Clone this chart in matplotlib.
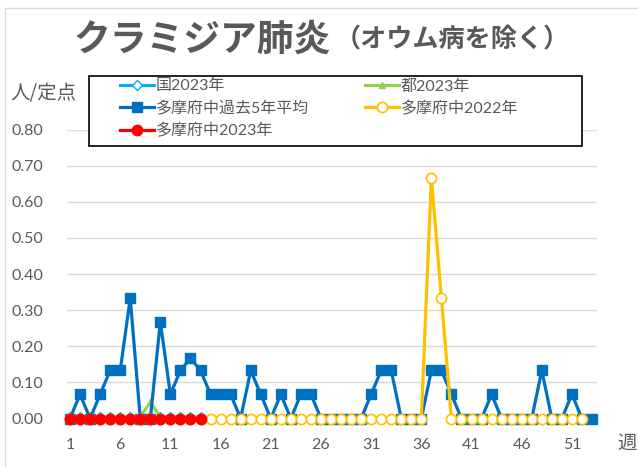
import matplotlib
matplotlib.use('Agg')
import matplotlib.pyplot as plt
from matplotlib.patches import Rectangle

plt.rcParams['font.family'] = ['Lato', 'Noto Sans CJK JP', 'DejaVu Sans']

# 週
weeks_all = list(range(1, 54))
weeks_2022 = list(range(1, 53))
weeks_2023 = list(range(1, 15))

# 多摩府中 過去5年平均
avg5 = [0, 0.067, 0, 0.067, 0.133, 0.133, 0.333, 0, 0, 0.267,
        0.067, 0.133, 0.167, 0.133, 0.067, 0.067, 0.067, 0, 0.133, 0.067,
        0, 0.067, 0, 0.067, 0.067, 0, 0, 0, 0, 0,
        0.067, 0.133, 0.133, 0, 0, 0, 0.133, 0.133, 0.067, 0,
        0, 0, 0.067, 0, 0, 0, 0, 0.133, 0, 0,
        0.067, 0, 0]

# 多摩府中 2022年
tama_2022 = [0] * 36 + [0.667, 0.333] + [0] * 14

# 多摩府中 2023年
tama_2023 = [0] * 14

# 都 2023年
tokyo_2023 = [0.005, 0.003, 0.005, 0.003, 0.005, 0.003, 0.005, 0.005, 0.045, 0.005,
              0.003, 0.005, 0.003, 0.005]

# 国 2023年
national_2023 = [0.004, 0.004, 0.004, 0.004, 0.004, 0.004, 0.004, 0.004, 0.004, 0.004,
                 0.004, 0.004, 0.004, 0.004]

yticks = [0.0, 0.1, 0.2, 0.3, 0.4, 0.5, 0.6, 0.7, 0.8]
xticks = [1, 6, 11, 16, 21, 26, 31, 36, 41, 46, 51]

TXT = '#595959'
W, H = 638, 467

fig = plt.figure(figsize=(W / 100, H / 100), dpi=100)

# 外枠
fig.patches.append(Rectangle((5 / W, -0.1), 1.2, (1 - 8 / H) + 0.1, transform=fig.transFigure,
                             fill=False, edgecolor='#D9D9D9', linewidth=1))

ax = fig.add_axes([67 / W, (H - 418.5) / H, 530 / W, 288.9 / H])

l_nat, = ax.plot(weeks_2023, national_2023, color='#00B0F0', lw=2.2, marker='D',
                 markersize=5, markerfacecolor='white', markeredgecolor='#00B0F0',
                 clip_on=False, zorder=2)
l_tok, = ax.plot(weeks_2023, tokyo_2023, color='#92D050', lw=2.2, marker='^',
                 markersize=5, clip_on=False, zorder=3)
l_avg, = ax.plot(weeks_all, avg5, color='#0070C0', lw=2.3, marker='s',
                 markersize=7.5, clip_on=False, zorder=4)
l_22, = ax.plot(weeks_2022, tama_2022, color='#FFC000', lw=2.3, marker='o',
                markersize=7.3, markerfacecolor='white', markeredgecolor='#FFC000',
                markeredgewidth=1.2, clip_on=False, zorder=5)
l_23, = ax.plot(weeks_2023, tama_2023, color='#FF0000', lw=2.3, marker='o',
                markersize=7.5, clip_on=False, zorder=6)

ax.set_xlim(0.7, 53.5)
ax.set_ylim(0, 0.8)
ax.set_yticks(yticks)
ax.set_yticklabels([f'{v:.2f}' for v in yticks])
ax.set_xticks(xticks)
ax.grid(axis='y', color='#D9D9D9', linewidth=1)
ax.set_axisbelow(True)
for s in ax.spines.values():
    s.set_visible(False)
ax.tick_params(axis='both', length=0, labelsize=11.5, colors=TXT)
ax.tick_params(axis='y', pad=17)
ax.tick_params(axis='x', pad=14)

# タイトル
fig.text(331 / W, 1 - 40 / H, 'クラミジア肺炎', ha='right', va='center',
         fontsize=26.5, fontweight='bold', color=TXT, family='Noto Sans CJK JP')
fig.text(335 / W, 1 - 40 / H, '（オウム病を除く）', ha='left', va='center',
         fontsize=18.8, fontweight='bold', color=TXT, family='Noto Sans CJK JP')

fig.text(10 / W, 1 - 93 / H, '人/定点', ha='left', va='center', fontsize=14,
         color=TXT, family='Noto Sans CJK JP')
fig.text(617 / W, 1 - 443 / H, '週', ha='left', va='center', fontsize=14,
         color=TXT, family='Noto Sans CJK JP')

# 凡例
fig.patches.append(Rectangle((89 / W, 1 - 146 / H), 493 / W, 70 / H, transform=fig.transFigure,
                             fill=True, facecolor='white', edgecolor='black', linewidth=1.2,
                             zorder=10))
handles = [l_nat, l_avg, l_23, l_tok, l_22]
labels = ['国2023年', '多摩府中過去5年平均', '多摩府中2023年', '都2023年', '多摩府中2022年']
leg = fig.legend(handles, labels, loc='upper left', bbox_to_anchor=(120 / W, 1 - 79 / H),
                 ncol=2, frameon=False, fontsize=11.5, handlelength=2.1,
                 handletextpad=0.15, columnspacing=3.5, labelspacing=0.45,
                 borderpad=0, borderaxespad=0, numpoints=1)
leg.set_zorder(11)
for t in leg.get_texts():
    t.set_color(TXT)

fig.savefig('out.png', dpi=100)
